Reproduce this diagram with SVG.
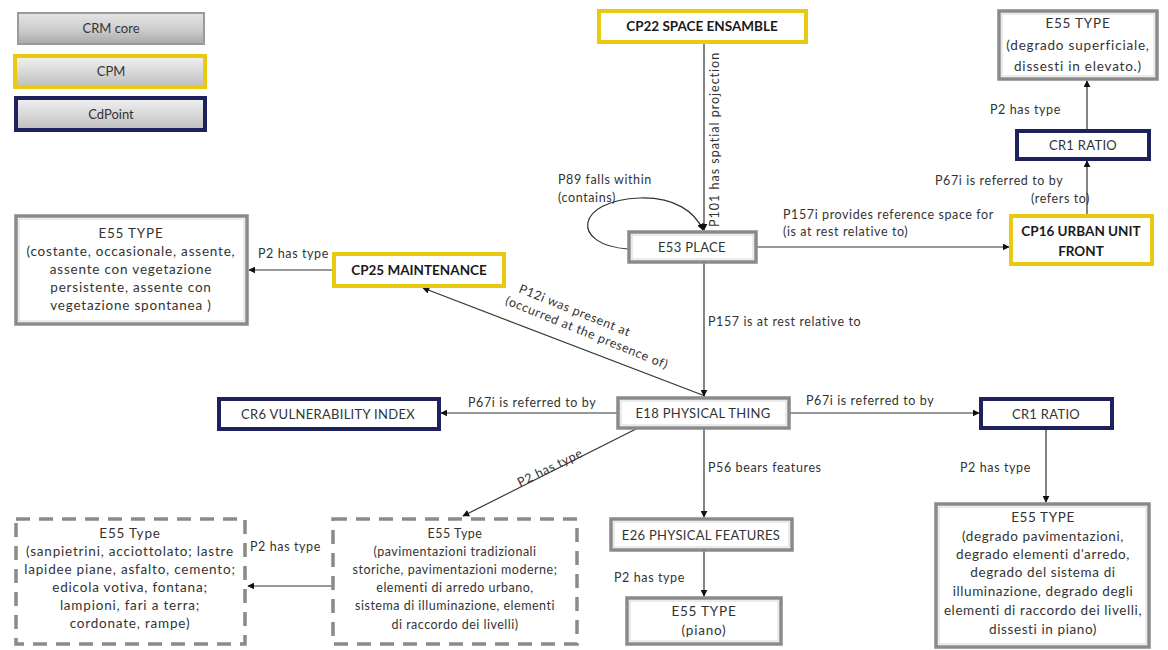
<svg xmlns="http://www.w3.org/2000/svg" width="1168" height="650" viewBox="0 0 1168 650">
  <defs>
    <linearGradient id="bevel" x1="0" y1="0" x2="0" y2="1">
      <stop offset="0" stop-color="#e4e4e4"/>
      <stop offset="0.5" stop-color="#cfcfcf"/>
      <stop offset="1" stop-color="#a9a9a9"/>
    </linearGradient>
    <linearGradient id="bevelLight" x1="0" y1="0" x2="0" y2="1">
      <stop offset="0" stop-color="#f2f2f2"/>
      <stop offset="0.5" stop-color="#d9d9d9"/>
      <stop offset="1" stop-color="#bdbdbd"/>
    </linearGradient>
    <marker id="arrow" viewBox="0 0 10 10" refX="9" refY="5" markerWidth="7" markerHeight="7" orient="auto" markerUnits="userSpaceOnUse">
      <path d="M0,0 L10,5 L0,10 z" fill="#111"/>
    </marker>
    <style>
      text { font-family: Lato, "Liberation Sans", sans-serif; fill: #333; font-size: 12.5px; letter-spacing: 0.6px; }
      .c { text-anchor: middle; }
      .n { font-size: 13px; letter-spacing: 0.3px; }
      .bx { font-size: 13.5px; letter-spacing: 0.8px; }
      .bm { font-size: 12.5px; letter-spacing: 0.5px; }
      .b { font-weight: bold; fill: #1a1a1a; font-size: 13.5px; letter-spacing: 0; }
      .lg { font-size: 13px; letter-spacing: 0; }
      .gray { fill: #fff; stroke: #8a8a8a; stroke-width: 3.5; }
      .grayIn { fill: none; stroke: #d8d8d8; stroke-width: 1; }
      .yellow { fill: #fff; stroke: #e8cb10; stroke-width: 4; }
      .navy { fill: #fff; stroke: #1d215c; stroke-width: 4; }
      .dash { fill: #fff; stroke: #8a8a8a; stroke-width: 3.5; stroke-dasharray: 14 9; }
      .edge { fill: none; stroke: #333; stroke-width: 1.2; marker-end: url(#arrow); }
    </style>
  </defs>

  <rect width="1168" height="650" fill="#fff"/>

  <!-- legend -->
  <g id="legend">
    <rect x="18" y="13" width="186" height="31" fill="url(#bevel)" stroke="#9a9a9a" stroke-width="2"/>
    <text class="c lg" x="111" y="33">CRM core</text>
    <rect x="15" y="56" width="190" height="31" fill="url(#bevelLight)" stroke="#e8cb10" stroke-width="4"/>
    <text class="c lg" x="111" y="76">CPM</text>
    <rect x="16" y="98" width="189" height="32" fill="url(#bevelLight)" stroke="#1d215c" stroke-width="4"/>
    <text class="c lg" x="111" y="119">CdPoint</text>
  </g>

  <!-- connectors -->
  <g id="connectors">
    <line class="edge" x1="704" y1="43" x2="704" y2="230"/>
    <path class="edge" d="M628,249 C570,245 575,200 640,198 C675,197 695,212 703,230"/>
    <line class="edge" x1="757" y1="247" x2="1009" y2="247"/>
    <line class="edge" x1="1087" y1="214" x2="1087" y2="161"/>
    <line class="edge" x1="1087" y1="129" x2="1087" y2="81"/>
    <line class="edge" x1="333" y1="270" x2="249" y2="270"/>
    <line class="edge" x1="705" y1="396" x2="423" y2="288"/>
    <line class="edge" x1="704" y1="263" x2="704" y2="396"/>
    <line class="edge" x1="617" y1="413" x2="441" y2="413"/>
    <line class="edge" x1="790" y1="413" x2="979" y2="413"/>
    <line class="edge" x1="636" y1="429" x2="463" y2="516"/>
    <line class="edge" x1="704" y1="429" x2="704" y2="517"/>
    <line class="edge" x1="704" y1="551" x2="704" y2="596"/>
    <line class="edge" x1="1046" y1="429" x2="1046" y2="502"/>
    <line class="edge" x1="332" y1="586" x2="248" y2="586"/>

    <text transform="translate(719,227) rotate(-90)" style="letter-spacing:1px">P101 has spatial projection</text>
    <text x="558" y="184">P89 falls within</text>
    <text x="558" y="202">(contains)</text>
    <text x="783" y="219">P157i provides reference space for</text>
    <text x="783" y="236">(is at rest relative to)</text>
    <text x="935" y="185">P67i  is referred to by</text>
    <text x="1090" y="203" text-anchor="end">(refers to)</text>
    <text x="990" y="114">P2 has type</text>
    <text x="258" y="258">P2 has type</text>
    <g transform="translate(518,292) rotate(22)">
      <text x="0" y="0">P12i was present at</text>
      <text x="-8" y="16">(occurred at the presence of)</text>
    </g>
    <text x="708" y="326">P157  is at rest relative to</text>
    <text x="468" y="407">P67i  is referred to by</text>
    <text x="806" y="405">P67i  is referred to by</text>
    <text transform="translate(520,487) rotate(-26)">P2 has type</text>
    <text x="708" y="472">P56  bears features</text>
    <text x="614" y="582">P2 has type</text>
    <text x="960" y="472">P2 has type</text>
    <text x="250" y="551">P2 has type</text>
  </g>

  <!-- nodes -->
  <g id="cp22">
    <rect class="yellow" x="599" y="11" width="207" height="31"/>
    <text class="c b" x="702" y="31">CP22 SPACE ENSAMBLE</text>
  </g>

  <g id="e55-elevato">
    <rect class="gray" x="999" y="11" width="158" height="68"/>
    <rect class="grayIn" x="1002" y="14" width="152" height="62"/>
    <text class="c bx" x="1078" y="28">E55 TYPE</text>
    <text class="c bx" x="1078" y="50">(degrado superficiale,</text>
    <text class="c bx" x="1078" y="71">dissesti in elevato.)</text>
  </g>

  <g id="cr1-top">
    <rect class="navy" x="1017" y="131" width="132" height="28"/>
    <text class="c n" x="1083" y="150">CR1 RATIO</text>
  </g>

  <g id="cp16">
    <rect class="yellow" x="1011" y="216" width="141" height="48"/>
    <text class="c b" x="1081" y="236">CP16 URBAN UNIT</text>
    <text class="c b" x="1081" y="256">FRONT</text>
  </g>

  <g id="e53">
    <rect class="gray" x="629" y="232" width="127" height="30"/>
    <rect class="grayIn" x="632" y="235" width="121" height="24"/>
    <text class="c n" x="692" y="252">E53 PLACE</text>
  </g>

  <g id="e55-maintenance">
    <rect class="gray" x="16" y="216" width="231" height="108"/>
    <rect class="grayIn" x="19" y="219" width="225" height="102"/>
    <text class="c bx" x="131" y="238">E55 TYPE</text>
    <text class="c bx" x="131" y="256">(costante, occasionale, assente,</text>
    <text class="c bx" x="131" y="274">assente con vegetazione</text>
    <text class="c bx" x="131" y="292">persistente, assente con</text>
    <text class="c bx" x="131" y="310">vegetazione spontanea )</text>
  </g>

  <g id="cp25">
    <rect class="yellow" x="334" y="254" width="170" height="32"/>
    <text class="c b" x="419" y="275">CP25 MAINTENANCE</text>
  </g>

  <g id="cr6">
    <rect class="navy" x="219" y="399" width="220" height="30"/>
    <text class="c n" x="328" y="419">CR6 VULNERABILITY INDEX</text>
  </g>

  <g id="e18">
    <rect class="gray" x="618" y="398" width="171" height="30"/>
    <rect class="grayIn" x="621" y="401" width="165" height="24"/>
    <text class="c n" x="703" y="418">E18 PHYSICAL THING</text>
  </g>

  <g id="cr1-right">
    <rect class="navy" x="981" y="399" width="131" height="29"/>
    <text class="c n" x="1046" y="419">CR1 RATIO</text>
  </g>

  <g id="e55-arredo-list">
    <rect class="dash" x="16" y="519" width="229" height="125"/>
    <text class="c bx" x="130" y="538">E55 Type</text>
    <text class="c bx" x="130" y="556">(sanpietrini, acciottolato; lastre</text>
    <text class="c bx" x="130" y="574">lapidee piane, asfalto, cemento;</text>
    <text class="c bx" x="130" y="592">edicola votiva, fontana;</text>
    <text class="c bx" x="130" y="610">lampioni, fari a terra;</text>
    <text class="c bx" x="130" y="628">cordonate, rampe)</text>
  </g>

  <g id="e55-pavimentazioni">
    <rect class="dash" x="333" y="519" width="244" height="125"/>
    <text class="c bm" x="455" y="538">E55 Type</text>
    <text class="c bm" x="455" y="556">(pavimentazioni tradizionali</text>
    <text class="c bm" x="455" y="574">storiche, pavimentazioni moderne;</text>
    <text class="c bm" x="455" y="592">elementi di arredo urbano,</text>
    <text class="c bm" x="455" y="610">sistema di illuminazione, elementi</text>
    <text class="c bm" x="455" y="629">di raccordo dei livelli)</text>
  </g>

  <g id="e26">
    <rect class="gray" x="611" y="519" width="181" height="31"/>
    <rect class="grayIn" x="614" y="522" width="175" height="25"/>
    <text class="c n" x="701" y="540">E26 PHYSICAL FEATURES</text>
  </g>

  <g id="e55-piano">
    <rect class="gray" x="627" y="598" width="154" height="46"/>
    <rect class="grayIn" x="630" y="601" width="148" height="40"/>
    <text class="c bx" x="704" y="616">E55 TYPE</text>
    <text class="c bx" x="704" y="635">(piano)</text>
  </g>

  <g id="e55-degrado">
    <rect class="gray" x="936" y="504" width="213" height="143"/>
    <rect class="grayIn" x="939" y="507" width="207" height="137"/>
    <text class="c bx" x="1043" y="522" style="letter-spacing:0.6px">E55 TYPE</text>
    <text class="c bx" x="1043" y="541" style="letter-spacing:0.6px">(degrado pavimentazioni,</text>
    <text class="c bx" x="1043" y="559" style="letter-spacing:0.6px">degrado elementi d'arredo,</text>
    <text class="c bx" x="1043" y="577" style="letter-spacing:0.6px">degrado del sistema di</text>
    <text class="c bx" x="1043" y="596" style="letter-spacing:0.6px">illuminazione, degrado degli</text>
    <text class="c bx" x="1043" y="615" style="letter-spacing:0.6px">elementi di raccordo dei livelli,</text>
    <text class="c bx" x="1043" y="634" style="letter-spacing:0.6px">dissesti in piano)</text>
  </g>
</svg>
